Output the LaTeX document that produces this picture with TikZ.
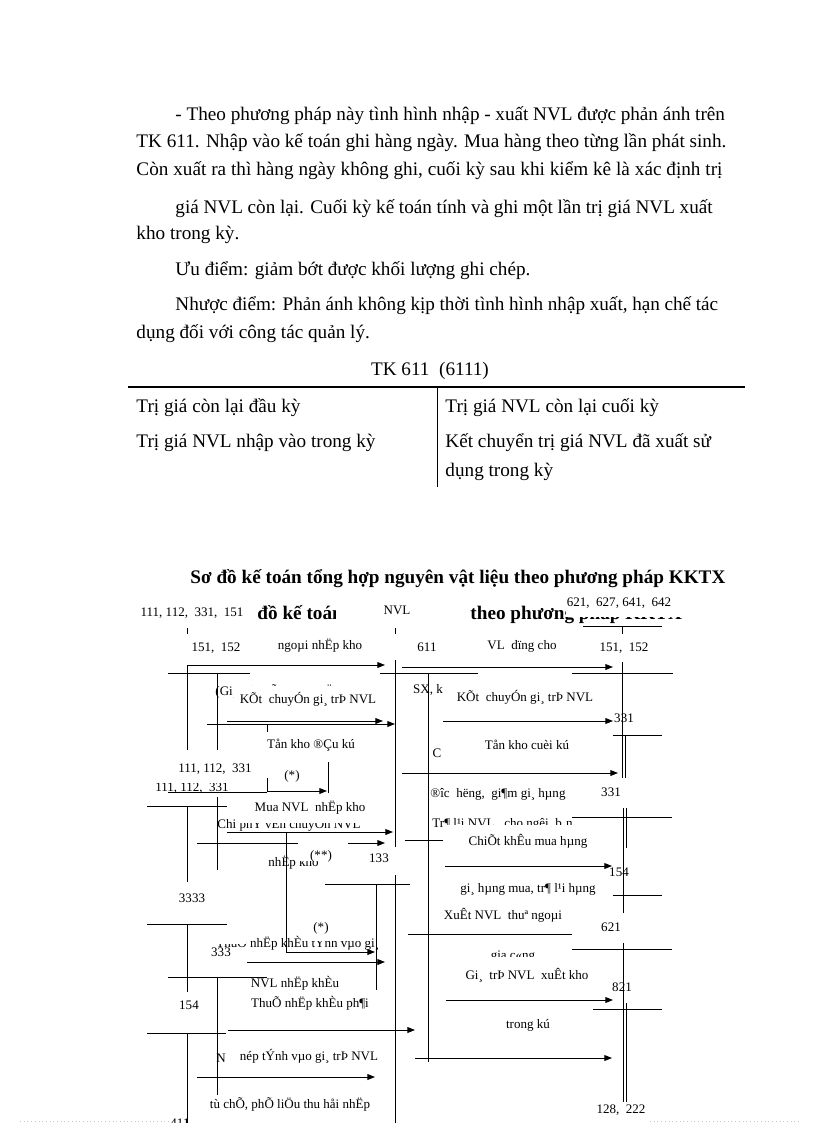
\documentclass[tikz,border=0pt]{standalone}
\usepackage{fontspec}
\setmainfont{Liberation Serif}
\usetikzlibrary{arrows.meta}
\tikzset{
  px/.style={x=0.7297pt,y=-0.7297pt},
  flow/.style={-{Triangle[length=5.5pt,width=4.2pt]}},
  lbl/.style={font=\fontsize{9.5}{11}\selectfont, inner sep=0pt, anchor=base},
  txt/.style={font=\fontsize{14}{17}\selectfont, inner sep=0pt, anchor=base west},
  head/.style={txt, font=\fontsize{14}{17}\selectfont\bfseries},
  mask/.style={fill=white}
}
\newcommand{\jline}[2]{\makebox[#1][s]{#2}}
\begin{document}
\begin{tikzpicture}[px, line width=0.7pt]
\useasboundingbox (0,0) rectangle (816,1123);

\node[txt] (p1) at (175,120) {\jline{401pt}{- Theo phương pháp này tình hình nhập - xuất NVL được phản ánh trên}};
\node[txt] (p2) at (136,147) {\jline{430.5pt}{TK 611. Nhập vào kế toán ghi hàng ngày. Mua hàng theo từng lần phát sinh.}};
\node[txt] (p3) at (136,175) {\jline{427.6pt}{Còn xuất ra thì hàng ngày không ghi, cuối kỳ sau khi kiểm kê là xác định trị}};
\node[txt] (p4) at (175,213) {\jline{392pt}{giá NVL còn lại. Cuối kỳ kế toán tính và ghi một lần trị giá NVL xuất}};
\node[txt] (p5) at (136,239) {kho trong kỳ.};
\node[txt] (p6) at (175,275) {Ưu điểm: giảm bớt được khối lượng ghi chép.};
\node[txt] (p7) at (175,310) {\jline{396pt}{Nhược điểm: Phản ánh không kịp thời tình hình nhập xuất, hạn chế tác}};
\node[txt] (p8) at (136,338) {dụng đối với công tác quản lý.};

% tai khoan 611
\node[txt, anchor=base] (tk) at (430,375) {TK 611 \ (6111)};
\draw[line width=1.6pt] (128,387) -- (745,387);
\draw (437,387) -- (437,487);
\node[txt] (no1) at (136,412) {Trị giá còn lại đầu kỳ};
\node[txt] (no2) at (136,447) {Trị giá NVL nhập vào trong kỳ};
\node[txt] (co1) at (445,412) {Trị giá NVL còn lại cuối kỳ};
\node[txt] (co2) at (445,447) {Kết chuyển trị giá NVL đã xuất sử};
\node[txt] (co3) at (445,476) {dụng trong kỳ};

% so do
\node[head] (title) at (190,583) {Sơ đồ kế toán tổng hợp nguyên vật liệu theo phương pháp KKTX};
\begin{scope}
  \clip (250,595) rectangle (335,630);
  \node[head] (echoa) at (257,619) {đồ kế toán};
\end{scope}
\node[head] (echob) at (470,619) {theo phương pháp KKTX};
\fill[mask] (566,590) rectangle (700,617);

\foreach \y/\xa/\xb in {673/168/250, 806/147/227, 792/168/267, 843/197/298, 884/325/410,
  924/147/227, 977/168/267, 1033/147/226, 626/583/662, 673/380/478, 673/572/673,
  735/613/662, 817/572/672, 840/405/443, 895/613/662, 934/408/572, 949/572/672, 1009/593/662}
  \draw (\xa,\y) -- (\xb,\y);

\foreach \x/\ya/\yb in {187/628/634, 395/628/634, 622/627/634,
  187/666/750, 217/673/750, 187/806/882, 217/797/870, 187/924/992, 217/977/1095, 187/1033/1130,
  267/724/732, 267/778/792, 328/762/793, 286/833/952, 376/885/990,
  395/660/847, 395/875/1130, 428/673/1062,
  622/662/778, 625/735/778, 623/808/913, 626/808/848, 623/943/1102, 626/1003/1102}
  \draw (\x,\ya) -- (\x,\yb);

\foreach \y/\xa/\xb in {665/187/385, 724/207/395, 721/227/383, 791/267/327, 832/227/393,
  843/348/385, 952/286/375, 962/247/385, 1030/228/415, 1077/197/375,
  667/402/613, 721/443/613, 773/402/618, 866/445/612, 1000/446/613, 1058/415/612}
  \draw[flow] (\xa,\y) -- (\xb,\y);

% chu bi che mot phan
\node[lbl, anchor=base west] (hida) at (215,695) {(Gi¸ thùc tÕ NVL nhËp};
\node[lbl, anchor=base west] (hidb) at (217,828) {Chi phÝ vËn chuyÓn NVL};
\node[lbl, anchor=base west] (hidc) at (216,947) {ThuÕ nhËp khÈu tÝnh vµo gi¸};
\node[lbl, anchor=base west] (hidd) at (268,866) {nhËp kho};
\node[lbl] (hide) at (513,959) {gia c«ng};
\begin{scope}
  \clip (400,780) rectangle (573,840);
  \node[lbl, anchor=base west] (hidf) at (430,797) {®îc \ hëng, \ gi¶m gi¸ hµng};
  \node[lbl, anchor=base west] (hidg) at (432,827) {Tr¶ l¹i NVL, \ cho ngêi \ b¸n};
\end{scope}
\begin{scope}
  \clip (140,783) rectangle (260,800);
  \node[lbl] (acc111c) at (192,791) {111, 112, \ 331};
\end{scope}
\fill[mask] (233.5,685.5) rectangle (385,712);
\fill[mask] (237,797) rectangle (370,823);
\fill[mask] (444,825) rectangle (600,852);
\fill[mask] (299,845) rectangle (336,861);
\fill[mask] (213,925) rectangle (246,944);
\fill[mask] (311,925) rectangle (372,941);
\fill[mask] (460,957) rectangle (595,985);

\node[lbl] (acc621) at (619,606) {621, \ 627, 641, \ 642};
\node[lbl] (acc111a) at (192,616) {111, 112, \ 331, \ 151};
\node[lbl] (accnvl) at (397,614) {NVL};
\node[lbl] (acc151a) at (216,651) {151, \ 152};
\node[lbl] (ngoai) at (320,649) {ngoµi nhËp kho};
\node[lbl] (acc611) at (427,651) {611};
\node[lbl] (dung) at (522,649) {VL \ dïng cho};
\node[lbl] (acc151b) at (624,651) {151, \ 152};
\node[lbl] (kca) at (308,703) {KÕt \ chuyÓn gi¸ trÞ NVL};
\node[lbl] (sx) at (428,693) {SX, k};
\node[lbl] (kcb) at (525,701) {KÕt \ chuyÓn gi¸ trÞ NVL};
\node[lbl] (acc331a) at (624,722) {331};
\node[lbl] (tona) at (311,748) {Tån kho ®Çu kú};
\node[lbl] (tonb) at (527,749) {Tån kho cuèi kú};
\node[lbl] (cc) at (437,757) {C};
\node[lbl] (acc111b) at (215,772) {111, 112, \ 331};
\node[lbl] (stara) at (292,779) {(*)};
\node[lbl] (acc331b) at (611,796) {331};
\node[lbl] (mua) at (310,811) {Mua NVL \ nhËp kho};
\node[lbl] (chietk) at (528,845) {ChiÕt khÊu mua hµng};
\node[lbl] (starb) at (321,859) {(**)};
\node[lbl] (acc133) at (379,862) {133};
\node[lbl] (acc154a) at (619,876) {154};
\node[lbl] (giahm) at (528,892) {gi¸ hµng mua, tr¶ l¹i hµng};
\node[lbl] (acc3333) at (192,902) {3333};
\node[lbl] (xuatn) at (503,919) {XuÊt NVL \ thuª ngoµi};
\node[lbl] (starc) at (321,931) {(*)};
\node[lbl] (acc621b) at (611,931) {621};
\node[lbl] (acc333) at (221,956) {333};
\node[lbl] (gtri) at (527,979) {Gi¸ \ trÞ NVL \ xuÊt kho};
\node[lbl] (nvlnk) at (295,987) {NVL nhËp khÈu};
\node[lbl] (acc821) at (622,991) {821};
\node[lbl] (acc154b) at (189,1009) {154};
\node[lbl] (thue) at (310,1007) {ThuÕ nhËp khÈu ph¶i};
\node[lbl] (trong) at (528,1028) {trong kú};
\node[lbl] (nn) at (221,1062) {N};
\node[lbl] (nop) at (309,1060) {nép tÝnh vµo gi¸ trÞ NVL};
\node[lbl] (tuche) at (290,1108) {tù chÕ, phÕ liÖu thu håi nhËp};
\node[lbl] (acc128) at (621,1113) {128, \ 222};
\node[lbl] (acc411) at (180,1127) {411};

\draw[gray!45, dotted] (20,1121) -- (170,1121) (650,1121) -- (800,1121);
\end{tikzpicture}
\end{document}
